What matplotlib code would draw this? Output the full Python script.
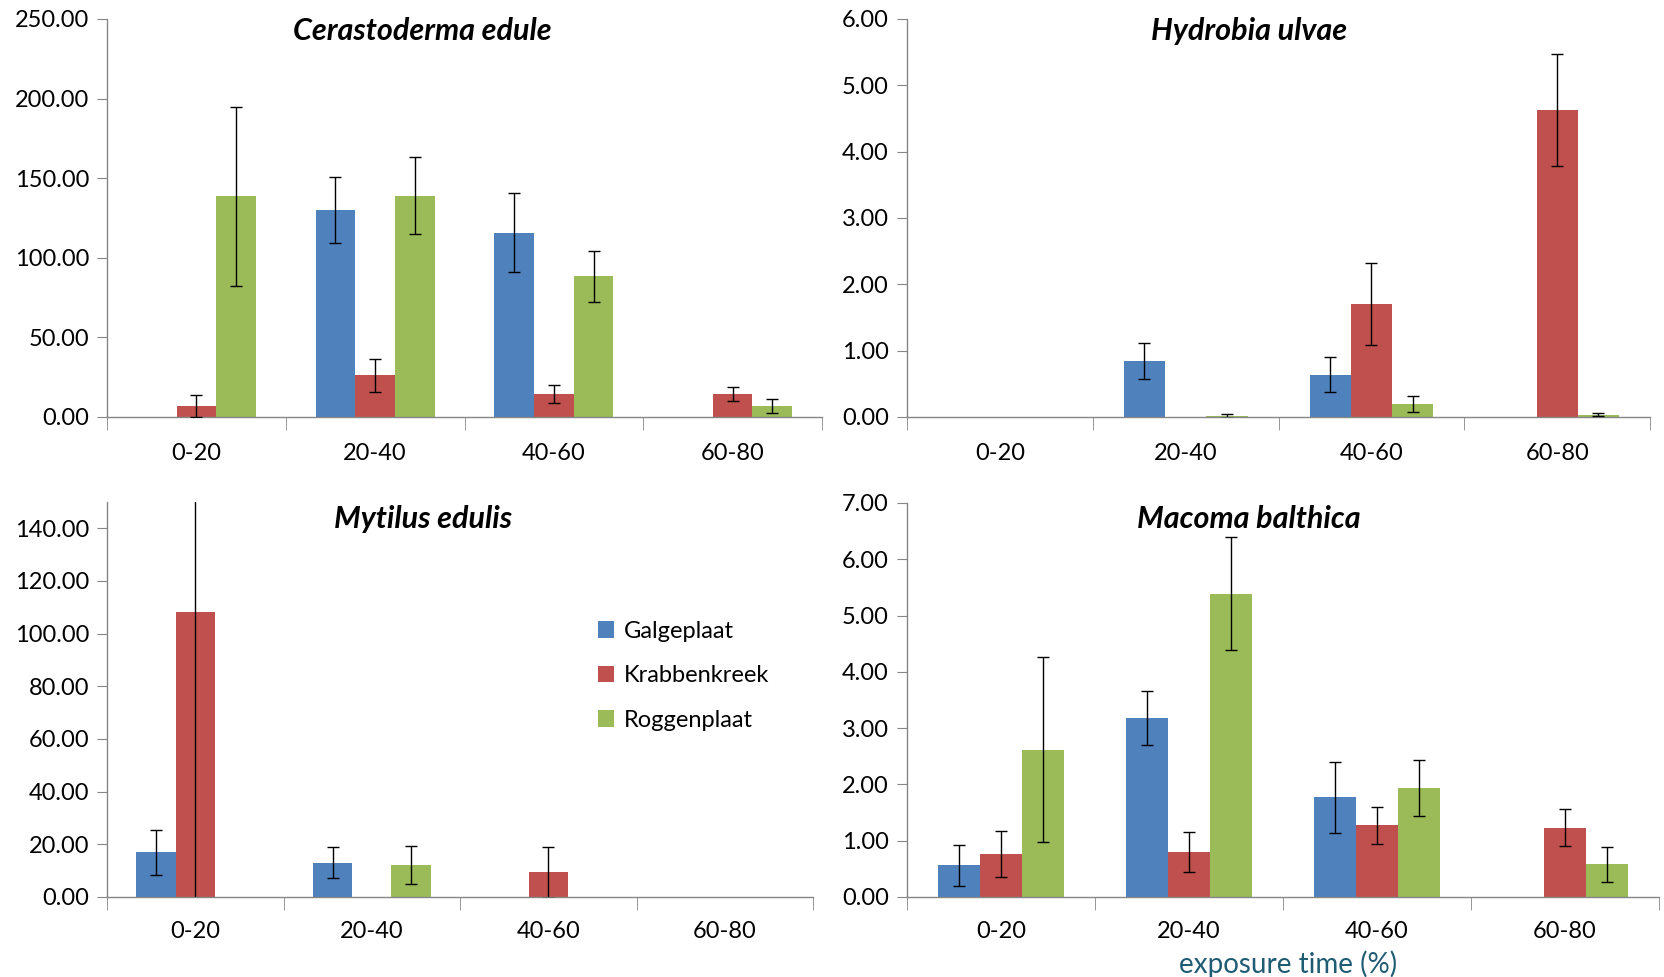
import numpy as np
import matplotlib
matplotlib.use('Agg')
import matplotlib.pyplot as plt
from matplotlib.ticker import FormatStrFormatter, FixedLocator

plt.rcParams['font.family'] = ['Lato', 'DejaVu Sans']

# categorias e locais
categories = ['0-20', '20-40', '40-60', '60-80']
sites = ['Galgeplaat', 'Krabbenkreek', 'Roggenplaat']
colors = ['#4F81BD', '#C0504D', '#9BBB59']

# Cerastoderma edule
cer_mean = [[0, 130.1, 115.7, 0],
            [6.7, 26.2, 14.4, 14.4],
            [138.5, 139.1, 88.3, 6.7]]
cer_err = [[0, 20.6, 24.9, 0],
           [6.9, 10.5, 5.6, 4.2],
           [56.2, 23.9, 16.0, 4.3]]

# Hydrobia ulvae
hyd_mean = [[0, 0.85, 0.64, 0],
            [0, 0, 1.70, 4.63],
            [0, 0.02, 0.19, 0.035]]
hyd_err = [[0, 0.27, 0.26, 0],
           [0, 0, 0.62, 0.84],
           [0, 0.03, 0.12, 0.025]]

# Mytilus edulis
myt_mean = [[17.0, 13.0, 0, 0],
            [108.2, 0, 9.3, 0],
            [0, 12.1, 0, 0]]
myt_err = [[8.5, 5.8, 0, 0],
           [115.0, 0, 9.5, 0],
           [0, 7.3, 0, 0]]

# Macoma balthica
mac_mean = [[0.56, 3.18, 1.77, 0],
            [0.76, 0.80, 1.27, 1.23],
            [2.62, 5.39, 1.93, 0.58]]
mac_err = [[0.37, 0.48, 0.63, 0],
           [0.41, 0.36, 0.32, 0.33],
           [1.64, 1.00, 0.50, 0.31]]

fig = plt.figure(figsize=(16.64, 9.77), dpi=100)

painel = [
    ('Cerastoderma edule', cer_mean, cer_err, 250, 50, [0.0643, 0.5732, 0.4297, 0.4074], (0.254, 0.968), 19),
    ('Hydrobia ulvae', hyd_mean, hyd_err, 6, 1, [0.5451, 0.5732, 0.4465, 0.4074], (0.7506, 0.968), 19),
    ('Mytilus edulis', myt_mean, myt_err, 150, 20, [0.0643, 0.0819, 0.4243, 0.4043], (0.254, 0.469), 17),
    ('Macoma balthica', mac_mean, mac_err, 7, 1, [0.5451, 0.0819, 0.4519, 0.4033], (0.7506, 0.469), 17),
]

x = np.arange(len(categories))
w = 0.222
axes = []
for titulo, medias, erros, ymax, passo, pos, tpos, xpad in painel:
    ax = fig.add_axes(pos)
    for i in range(3):
        m = np.array(medias[i], dtype=float)
        e = np.array(erros[i], dtype=float)
        xs = x + (i - 1) * w
        ax.bar(xs, m, width=w, color=colors[i], label=sites[i], zorder=2)
        mask = e > 0
        ax.errorbar(xs[mask], m[mask], yerr=e[mask], fmt='none', ecolor='black',
                    elinewidth=1, capsize=4, capthick=1, zorder=3)
    ax.set_xlim(-0.5, 3.5)
    ax.set_ylim(0, ymax)
    ax.set_yticks(np.arange(0, ymax + 0.001, passo) if ymax != 150 else np.arange(0, 141, 20))
    ax.yaxis.set_major_formatter(FormatStrFormatter('%.2f'))
    ax.set_xticks(x)
    ax.set_xticklabels(categories)
    ax.xaxis.set_minor_locator(FixedLocator(np.arange(-0.5, 3.6, 1)))
    ax.tick_params(axis='x', which='major', length=0, pad=xpad, labelsize=17)
    ax.tick_params(axis='x', which='minor', length=9, color='#868686', direction='out')
    ax.tick_params(axis='y', length=7, color='#868686', direction='out', labelsize=17, pad=6)
    for s in ['top', 'right']:
        ax.spines[s].set_visible(False)
    for s in ['left', 'bottom']:
        ax.spines[s].set_color('#868686')
        ax.spines[s].set_linewidth(1)
    fig.text(tpos[0], tpos[1], titulo, ha='center', va='center', fontsize=22,
             fontweight='bold', fontstyle='italic')
    axes.append(ax)

axes[2].legend(loc='center left', bbox_to_anchor=(0.665, 0.56), frameon=False,
               fontsize=17, labelspacing=1.0, handlelength=0.7, handleheight=0.7,
               handletextpad=0.4)

fig.text(0.774, 0.013, 'exposure time (%)', ha='center', va='center',
         fontsize=20, color='#1F5C74')

fig.savefig('out.png', dpi=100)
